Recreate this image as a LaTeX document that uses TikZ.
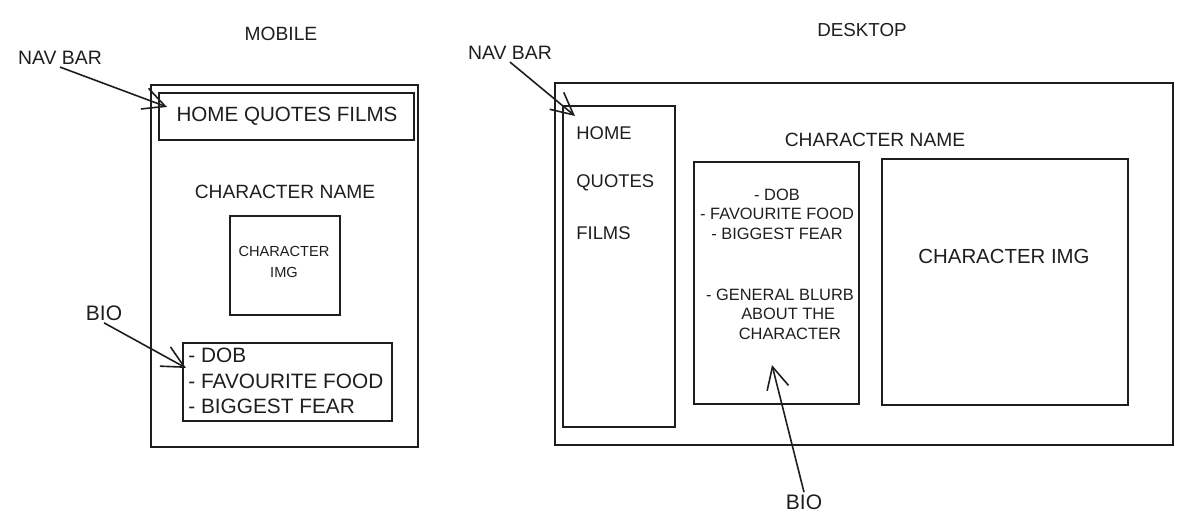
\documentclass[tikz,border=0pt]{standalone}
\usepackage{fontspec}
\setmainfont{Liberation Sans}
\usetikzlibrary{arrows.meta,fit}
\definecolor{ink}{HTML}{1E1E1E}
\newcommand{\fs}[2]{\fontsize{#1}{#2}\selectfont}
\tikzset{
  box/.style={draw=ink, line width=1pt, inner sep=0pt, outer sep=0pt},
  lbl/.style={text=ink, inner sep=1pt},
  arr/.style={draw=ink, line width=0.8pt, -{Straight Barb[length=11pt,width=11pt,line width=0.8pt]}},
}
\begin{document}
\begin{tikzpicture}[x=0.5pt,y=-0.5pt]
\useasboundingbox (0,0) rectangle (1200,518);
% ---------- MOBILE ----------
\node[lbl, font=\fs{9.6}{11}] (mtitle) at (281,34) {MOBILE};
\node[box, fit={(151,85) (418,447)}] (mframe) {};
\node[box, fit={(159,93) (414,140)}] (mnav) {};
\node[lbl, font=\fs{10.3}{12}] (mnavtxt) at (287,116) {HOME QUOTES FILMS};
\node[lbl, font=\fs{9.6}{11}] (mname) at (285,192) {CHARACTER NAME};
\node[box, fit={(230,216) (340,315)}] (mimg) {};
\node[lbl, font=\fs{7.3}{10.5}, align=center] (mimgtxt) at (284,262) {CHARACTER\\IMG};
\node[box, fit={(183,343) (392,421)}] (mbio) {};
\node[lbl, font=\fs{10.4}{12.75}, align=left, anchor=west] (mbiotxt) at (186,381) {- DOB\\- FAVOURITE FOOD\\- BIGGEST FEAR};
\node[lbl, font=\fs{9.7}{11}] (mnavlbl) at (60,58) {NAV BAR};
\node[lbl, font=\fs{10.5}{12}] (mbiolbl) at (104,313) {BIO};
\coordinate (mnavtip) at (167,107);
\coordinate (mbiotip) at (186,368);
\draw[arr] (mnavlbl.south) -- (mnavtip);
\draw[arr] (mbiolbl.south) -- (mbiotip);
% ---------- DESKTOP ----------
\node[lbl, font=\fs{9.4}{11}] (dtitle) at (862,30) {DESKTOP};
\node[box, fit={(555,83) (1173,445)}] (dframe) {};
\node[box, fit={(563,106) (675,427)}] (dnav) {};
\node[lbl, font=\fs{9.2}{11}, anchor=west] (dhome) at (574,133) {HOME};
\node[lbl, font=\fs{9.2}{11}, anchor=west] (dquotes) at (574,183) {QUOTES};
\node[lbl, font=\fs{9.2}{11}, anchor=west] (dfilms) at (574,233) {FILMS};
\node[lbl, font=\fs{9.6}{11}] (dname) at (875,140) {CHARACTER NAME};
\node[box, fit={(694,162) (859,404)}] (dbio) {};
\node[lbl, font=\fs{8.2}{9.75}, align=center] (dbiotxt) at (777,214) {- DOB\\- FAVOURITE FOOD\\- BIGGEST FEAR};
\node[lbl, font=\fs{8.2}{9.75}, align=center] (dblurb) at (780,314) {- GENERAL BLURB\\\hspace{1em}ABOUT THE\\\hspace{1.2em}CHARACTER};
\node[box, fit={(882,159) (1128,405)}] (dimg) {};
\node[lbl, font=\fs{10.2}{12}] (dimgtxt) at (1004,256) {CHARACTER IMG};
\node[lbl, font=\fs{9.7}{11}] (dnavlbl) at (510,53) {NAV BAR};
\node[lbl, font=\fs{10.5}{12}] (dbiolbl) at (804,502) {BIO};
\coordinate (dnavtip) at (575,116);
\coordinate (dbiotip) at (772,365);
\draw[arr] (dnavlbl.south) -- (dnavtip);
\draw[arr] (dbiolbl.north) -- (dbiotip);
\end{tikzpicture}
\end{document}
